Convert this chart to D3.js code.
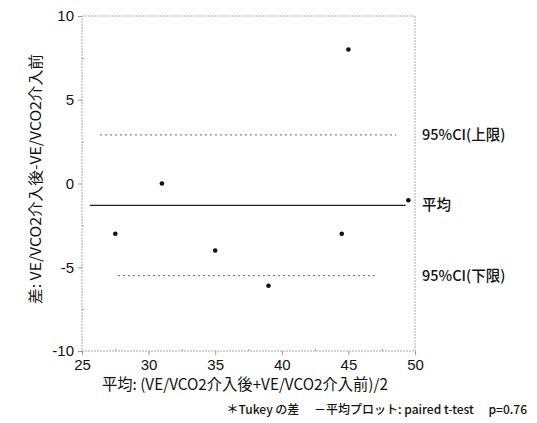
<!DOCTYPE html>
<html><head><meta charset="utf-8">
<script src="https://cdn.jsdelivr.net/npm/d3@7"></script>
<style>
body{margin:0;background:#fff;}
svg{display:block;}
</style></head>
<body>
<script>
// ---- data ----
const meanX = [27.5, 31, 35, 39, 44.5, 45, 49.5];
const diffY = [-3, 0, -4, -6.1, -3, 8, -1];
const refNames = ["95%CI(上限)", "平均", "95%CI(下限)"];
const refValues = [2.9, -1.3, -5.5];
const refStart = [26.35, 25.6, 27.7];
const refEnd = [48.6, 49.3, 47.2];
const refDash = ["2,3", null, "2,3"];
const xTicks = [25, 30, 35, 40, 45, 50];
const yTicks = [-10, -5, 0, 5, 10];
const xMinor = [27.5, 32.5, 37.5, 42.5, 47.5];
const yMinor = [-7.5, -2.5, 2.5, 7.5];
const xTitle = "平均: (VE/VCO2介入後+VE/VCO2介入前)/2";
const yTitle = "差: VE/VCO2介入後-VE/VCO2介入前";
const footnote = "＊Tukey の差 　－平均プロット: paired t-test　 p=0.76";

const W = 537, H = 423;
const L = 82, R = 415, T = 16, B = 351;
const svg = d3.select("body").append("svg").attr("width", W).attr("height", H);

const x = d3.scaleLinear().domain([25, 50]).range([L, R]);
const y = d3.scaleLinear().domain([-10, 10]).range([B, T]);

// frame
svg.append("rect").attr("x", L).attr("y", T).attr("width", R - L).attr("height", B - T)
  .attr("fill", "none").attr("stroke", "#aaa").attr("stroke-width", 1).attr("stroke-dasharray", "2,1");

const tickFont = "'Liberation Sans', Arial, sans-serif";
const jpFont = "'Noto Sans CJK JP', sans-serif";
// axes
const xAxis = svg.append("g").attr("transform", `translate(0,${B})`)
  .call(d3.axisBottom(x).tickValues(xTicks).tickSize(4).tickPadding(4).tickFormat(d => String(d)));
const yAxis = svg.append("g").attr("transform", `translate(${L},0)`)
  .call(d3.axisLeft(y).tickValues(yTicks).tickSize(4).tickPadding(4).tickFormat(d => String(d)));
[xAxis, yAxis].forEach(g => {
  g.select(".domain").remove();
  g.selectAll(".tick line").attr("stroke", "#999");
  g.selectAll("text").attr("font-family", tickFont).attr("font-size", 15).attr("fill", "#111");
});
// minor ticks
const xm = svg.append("g").attr("transform", `translate(0,${B})`)
  .call(d3.axisTop(x).tickValues(xMinor).tickSize(2).tickFormat(""));
const ym = svg.append("g").attr("transform", `translate(${L},0)`)
  .call(d3.axisRight(y).tickValues(yMinor).tickSize(2).tickFormat(""));
[xm, ym].forEach(g => { g.select(".domain").remove(); g.selectAll(".tick line").attr("stroke", "#999"); });

// reference lines
refValues.forEach((v, i) => {
  const ln = svg.append("line")
    .attr("x1", x(refStart[i])).attr("x2", x(refEnd[i]))
    .attr("y1", y(v)).attr("y2", y(v))
    .attr("stroke", refDash[i] ? "#666" : "#222")
    .attr("stroke-width", refDash[i] ? 1 : 1.3);
  if (refDash[i]) ln.attr("stroke-dasharray", refDash[i]);
  svg.append("text").attr("x", 422).attr("y", y(v)).attr("dy", "0.35em")
    .attr("font-family", jpFont).attr("font-size", 14.5)
    .attr("font-weight", 500).attr("fill", "#111").text(refNames[i]);
});

// points
svg.append("g").selectAll("circle").data(meanX).join("circle")
  .attr("cx", (d) => x(d)).attr("cy", (d, i) => y(diffY[i])).attr("r", 2.3).attr("fill", "#111");

// titles
svg.append("text").attr("x", 245).attr("y", 385).attr("dy", "0.35em").attr("text-anchor", "middle")
  .attr("font-family", jpFont).attr("font-size", 15.5).attr("fill", "#111")
  .attr("textLength", 286).attr("lengthAdjust", "spacingAndGlyphs")
  .text(xTitle);
svg.append("text").attr("transform", "translate(36,179) rotate(-90)").attr("dy", "0.35em")
  .attr("text-anchor", "middle")
  .attr("font-family", jpFont).attr("font-size", 15).attr("fill", "#111")
  .attr("textLength", 250).attr("lengthAdjust", "spacingAndGlyphs")
  .text(yTitle);
svg.append("text").attr("x", 527).attr("y", 410).attr("dy", "0.35em").attr("text-anchor", "end")
  .attr("font-family", jpFont).attr("font-size", 12).attr("font-weight", 500)
  .attr("fill", "#111").text(footnote);
</script>
</body></html>
